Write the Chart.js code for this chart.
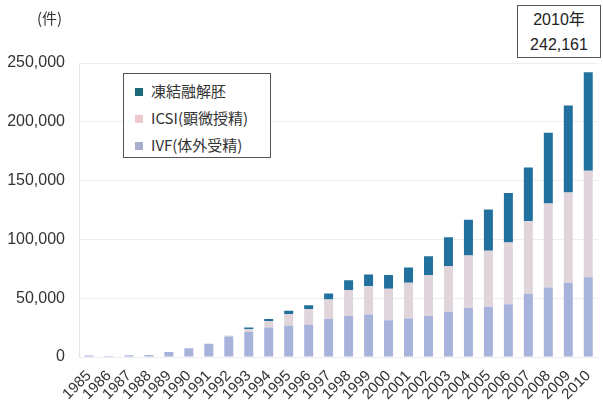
<!DOCTYPE html>
<html lang="ja">
<head>
<meta charset="UTF-8">
<script src="https://cdn.jsdelivr.net/npm/chart.js"></script>
<title>ART cycles</title>
<style>
  body { margin: 0; background: #fff; font-family: "Liberation Sans", "Noto Sans CJK JP", sans-serif; }
  .wrap { position: relative; width: 603px; height: 412px; }
  .unit { position: absolute; left: 37px; top: 7px; font-size: 15px; color: #333; font-family: "Noto Sans CJK JP", sans-serif; }
  .legend { position: absolute; left: 123px; top: 73px; width: 148px; height: 85px; border: 1px solid #555; background: #fff;
            font-family: "Noto Sans CJK JP", sans-serif; font-size: 15px; color: #333; padding-top: 3px; box-sizing: border-box; }
  .legend div { height: 27px; line-height: 27px; padding-left: 11px; white-space: nowrap; }
  .legend span { display: inline-block; width: 8px; height: 8px; margin-right: 8px; vertical-align: 1px; }
  .note { position: absolute; left: 517px; top: 5px; width: 84px; height: 53px; border: 1px solid #555; background: #fff;
          font-size: 16px; color: #222; text-align: center; line-height: 25px; padding-top: 1px; box-sizing: border-box;
          font-family: "Liberation Sans", "Noto Sans CJK JP", sans-serif; }
</style>
</head>
<body>
<div class="wrap">
  <canvas id="c"></canvas>
  <div class="unit">(件)</div>
  <div class="legend" id="legend"></div>
  <div class="note" id="note"></div>
</div>
<script>
const years = ["1985","1986","1987","1988","1989","1990","1991","1992","1993","1994","1995","1996","1997",
               "1998","1999","2000","2001","2002","2003","2004","2005","2006","2007","2008","2009","2010"];
const ivf = [1195, 752, 1503, 1702, 4218, 7405, 11177, 17404, 21287, 25157, 26648, 27338, 32247,
             34929, 36085, 31334, 32676, 34953, 38575, 41619, 42822, 44778, 53873, 59148, 63083, 67714];
const icsi = [0, 0, 0, 0, 0, 0, 0, 963, 2608, 5510, 9820, 13438, 16573,
              22135, 24139, 26712, 30369, 34824, 38871, 44698, 47579, 52539, 61813, 71350, 76790, 90677];
const frozen = [0, 0, 0, 0, 0, 0, 0, 0, 1086, 1711, 2893, 3271, 5208,
                8132, 9950, 11653, 13034, 15887, 24465, 30287, 35069, 42171, 45478, 60115, 73927, 83770];
const yTicks = [0, 50000, 100000, 150000, 200000, 250000];

const datasets = [
  { label: "IVF(体外受精)", data: ivf, backgroundColor: "#a8b3dc", swatch: "#a9aece" },
  { label: "ICSI(顕微授精)", data: icsi, backgroundColor: "#dfd5db", swatch: "#f0c6cf" },
  { label: "凍結融解胚", data: frozen, backgroundColor: "#21709d", swatch: "#1c6b7a" }
];

// legend, top item = top of the stack
const legend = document.getElementById("legend");
datasets.slice().reverse().forEach(d => {
  const row = document.createElement("div");
  row.innerHTML = `<span style="background:${d.swatch}"></span>${d.label}`;
  legend.appendChild(row);
});

const last = years.length - 1;
const total = ivf[last] + icsi[last] + frozen[last];
document.getElementById("note").innerHTML = `${years[last]}年<br>${total.toLocaleString("en-US")}`;

new Chart(document.getElementById("c"), {
  type: "bar",
  data: {
    labels: years,
    datasets: datasets.map(d => ({
      label: d.label, data: d.data, backgroundColor: d.backgroundColor,
      barPercentage: 1, categoryPercentage: 0.45
    }))
  },
  options: {
    responsive: true,
    maintainAspectRatio: false,
    animation: false,
    layout: { padding: { top: 63, right: 1, bottom: 0, left: 0 } },
    plugins: { legend: { display: false }, tooltip: { enabled: false } },
    scales: {
      x: {
        stacked: true,
        afterFit: axis => { axis.height = 55; },
        grid: { display: false },
        border: { display: false },
        ticks: {
          autoSkip: false, maxRotation: 45, minRotation: 45, padding: 2,
          color: "#333", font: { family: "Liberation Sans", size: 15 }
        }
      },
      y: {
        stacked: true,
        min: 0, max: 250000,
        afterBuildTicks: axis => { axis.ticks = yTicks.map(v => ({ value: v })); },
        afterFit: axis => { axis.width = 79; },
        grid: { color: "#eeeeee", drawTicks: false },
        border: { color: "#e6e6e6" },
        ticks: {
          padding: 14, color: "#333",
          font: { family: "Liberation Sans", size: 16 },
          callback: v => v.toLocaleString("en-US")
        }
      }
    }
  }
});
</script>
</body>
</html>
